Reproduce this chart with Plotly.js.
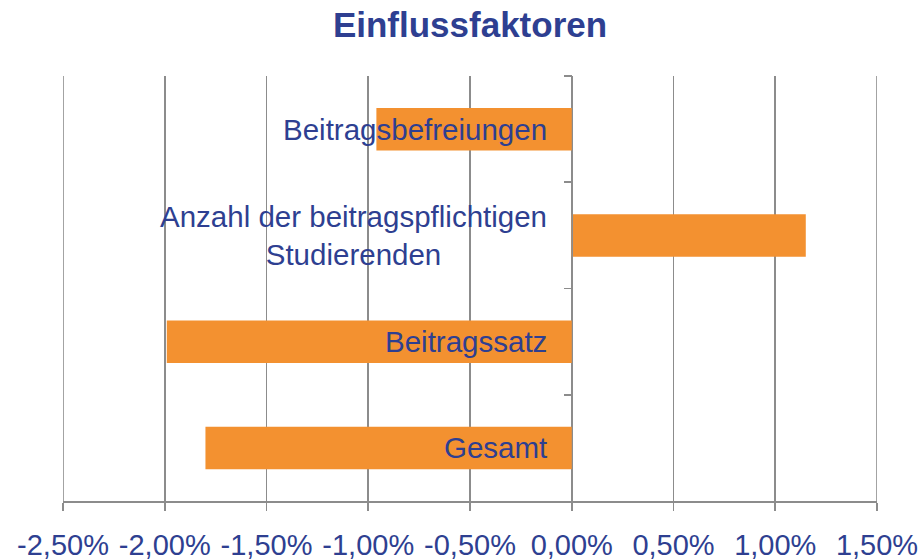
<!DOCTYPE html>
<html>
<head>
<meta charset="utf-8">
<script src="https://cdn.plot.ly/plotly-3.0.1.min.js"></script>
<style>html,body{margin:0;padding:0;background:#fff;}#chart{width:920px;height:559px;}</style>
</head>
<body>
<div id="chart"></div>
<script>
// Data (top to bottom)
const categories = ["Beitragsbefreiungen", "Anzahl der beitragspflichtigen<br>Studierenden", "Beitragssatz", "Gesamt"];
const values = [-0.96, 1.15, -1.99, -1.80];   // percent
const xRange = [-2.5, 1.5];
const xTicks = [-2.5, -2.0, -1.5, -1.0, -0.5, 0.0, 0.5, 1.0, 1.5];
const xTickLabels = ["-2,50%", "-2,00%", "-1,50%", "-1,00%", "-0,50%", "0,00%", "0,50%", "1,00%", "1,50%"];

const textColor = '#2E3F91';
const gridColor = '#8C8C8C';
const barColor = '#F39130';
const font = 'Arial, "Liberation Sans", sans-serif';

const trace = {
  type: 'bar',
  orientation: 'h',
  x: values,
  y: categories,
  marker: {color: barColor},
  hoverinfo: 'x+y'
};

const annotations = categories.map((c) => ({
  x: 0, y: c, xref: 'x', yref: 'y',
  text: c, showarrow: false,
  xanchor: 'right', yanchor: 'middle', xshift: -23,
  align: 'center',
  font: {family: font, size: 29.5, color: textColor}
}));

// edge gridlines (Plotly omits gridlines at the range ends)
const shapes = [xRange[0], xRange[1]].map((v) => ({
  type: 'line', xref: 'x', yref: 'paper', x0: v, x1: v, y0: 0, y1: 1,
  line: {color: gridColor, width: 1.6}, layer: 'below'
}));

const layout = {
  width: 920, height: 559,
  margin: {l: 63, r: 43, t: 76, b: 58, pad: 0},
  paper_bgcolor: '#fff', plot_bgcolor: '#fff',
  showlegend: false,
  bargap: 0.6,
  title: {
    text: '<b>Einflussfaktoren</b>',
    font: {family: font, size: 35, color: textColor},
    x: 0.5, xref: 'paper', y: 0.955, yref: 'container', yanchor: 'middle'
  },
  xaxis: {
    range: xRange,
    tickmode: 'array',
    tickvals: xTicks,
    ticktext: xTickLabels,
    showgrid: true, gridcolor: gridColor, gridwidth: 1.6,
    zeroline: false,
    showline: true, linecolor: gridColor, linewidth: 1.6,
    ticks: 'outside', ticklen: 8, tickcolor: gridColor, tickwidth: 1.6,
    ticklabelstandoff: 10,
    tickfont: {family: font, size: 29, color: textColor},
    fixedrange: true
  },
  yaxis: {
    type: 'category',
    autorange: 'reversed',
    anchor: 'free',
    position: (0 - xRange[0]) / (xRange[1] - xRange[0]),
    showline: true, linecolor: gridColor, linewidth: 1.6,
    ticks: 'outside', tickson: 'boundaries', ticklen: 8, tickcolor: gridColor, tickwidth: 1.6,
    showticklabels: false,
    showgrid: false, zeroline: false,
    fixedrange: true
  },
  shapes: shapes,
  annotations: annotations
};

Plotly.newPlot('chart', [trace], layout, {displayModeBar: false, staticPlot: true});
</script>
</body>
</html>
